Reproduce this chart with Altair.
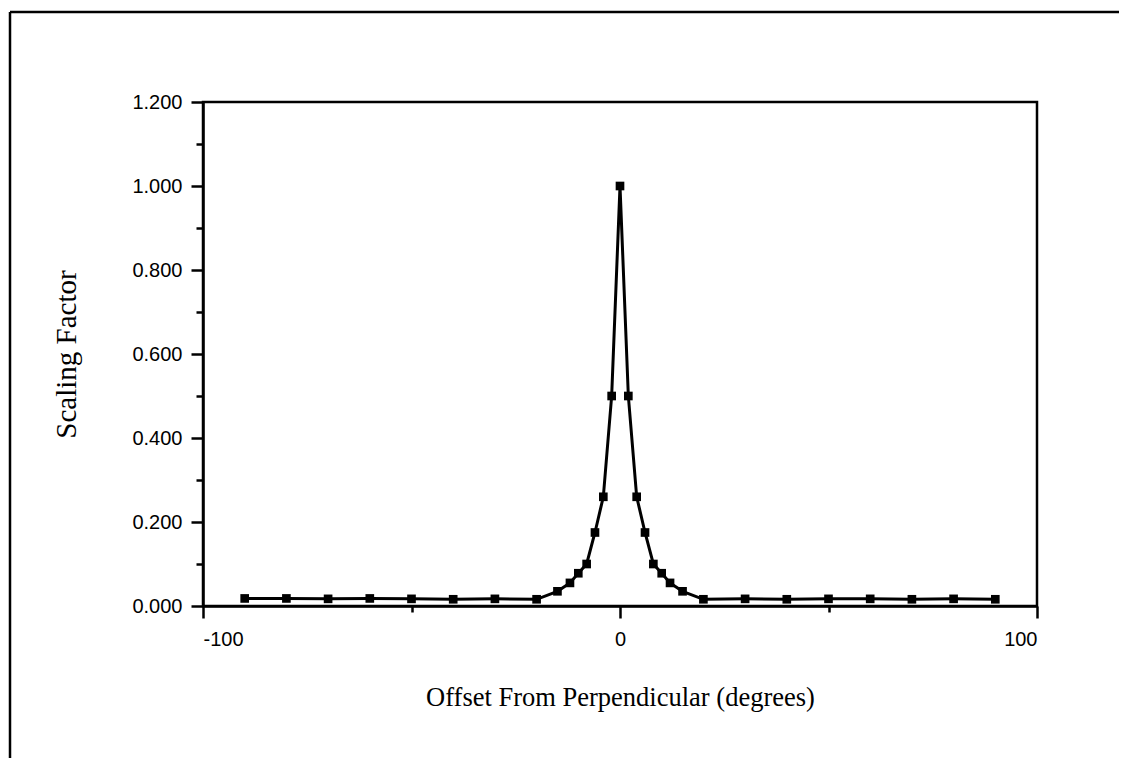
import altair as alt
import pandas as pd

# Data
offsets = [-90, -80, -70, -60, -50, -40, -30, -20, -15, -12, -10, -8, -6, -4, -2,
           0, 2, 4, 6, 8, 10, 12, 15, 20, 30, 40, 50, 60, 70, 80, 90]
factors = [0.018, 0.018, 0.017, 0.018, 0.017, 0.016, 0.017, 0.016, 0.035, 0.055,
           0.078, 0.100, 0.175, 0.260, 0.500,
           1.000, 0.500, 0.260, 0.175, 0.100, 0.078, 0.055, 0.035, 0.016,
           0.017, 0.016, 0.017, 0.017, 0.016, 0.017, 0.016]
x_ticks = [-100, -50, 0, 50, 100]
y_ticks = [0.0, 0.1, 0.2, 0.3, 0.4, 0.5, 0.6, 0.7, 0.8, 0.9, 1.0, 1.1, 1.2]

df = pd.DataFrame({"offset": offsets, "factor": factors})

W, H = 834, 504
SANS = "Liberation Sans"
SERIF = "Liberation Serif"

x_enc = alt.X(
    "offset:Q",
    scale=alt.Scale(domain=[-100, 100], nice=False, zero=False),
    axis=alt.Axis(
        values=x_ticks,
        title="Offset From Perpendicular (degrees)",
        titleFont=SERIF, titleFontSize=26.5, titleFontWeight="normal", titleColor="black",
        titleX=W / 2, titleY=91, titleBaseline="middle", titleAlign="center",
        labelExpr="datum.value % 100 == 0 ? '' + datum.value : ''",
        labelFont=SANS, labelFontSize=20, labelColor="black", labelPadding=11,
        tickSize={"condition": {"test": "datum.value % 100 == 0", "value": 12}, "value": 6},
        tickColor="black", tickWidth=2.5,
        domainColor="black", domainWidth=2.5, grid=False,
    ),
)
y_enc = alt.Y(
    "factor:Q",
    scale=alt.Scale(domain=[0, 1.2], nice=False),
    axis=alt.Axis(
        values=y_ticks,
        title="Scaling Factor",
        titleFont=SERIF, titleFontSize=29, titleFontWeight="normal", titleColor="black",
        titleX=-137, titleY=H / 2, titleAngle=-90, titleBaseline="middle", titleAlign="center",
        labelExpr="round(datum.value * 10) % 2 == 0 ? format(datum.value, '.3f') : ''",
        labelFont=SANS, labelFontSize=20, labelColor="black", labelPadding=9,
        tickSize={"condition": {"test": "round(datum.value * 10) % 2 == 0", "value": 12}, "value": 7},
        tickColor="black", tickWidth=2.5,
        domainColor="black", domainWidth=2.5, grid=False,
    ),
)

line = alt.Chart(df).mark_line(color="black", strokeWidth=3).encode(x=x_enc, y=y_enc)
pts = alt.Chart(df).mark_point(shape="square", filled=True, color="black", size=75, opacity=1).encode(
    x="offset:Q", y="factor:Q")

blank = alt.Data(values=[{}])
border_left = alt.Chart(blank).mark_rule(color="black", strokeWidth=2.5).encode(
    x=alt.value(-193), y=alt.value(-90), y2=alt.value(700))
border_top = alt.Chart(blank).mark_rule(color="black", strokeWidth=2.5).encode(
    x=alt.value(-193), x2=alt.value(950), y=alt.value(-90))

chart = alt.layer(line, pts, border_left, border_top).properties(
    width=W, height=H,
    autosize=alt.AutoSizeParams(type="none"),
    padding={"left": 195, "top": 94, "right": 82, "bottom": 152},
).configure(
    background="white",
    view=alt.ViewConfig(stroke="black", strokeWidth=2.5),
)

chart.save("out.html", embed_options={"renderer": "svg", "actions": False})
